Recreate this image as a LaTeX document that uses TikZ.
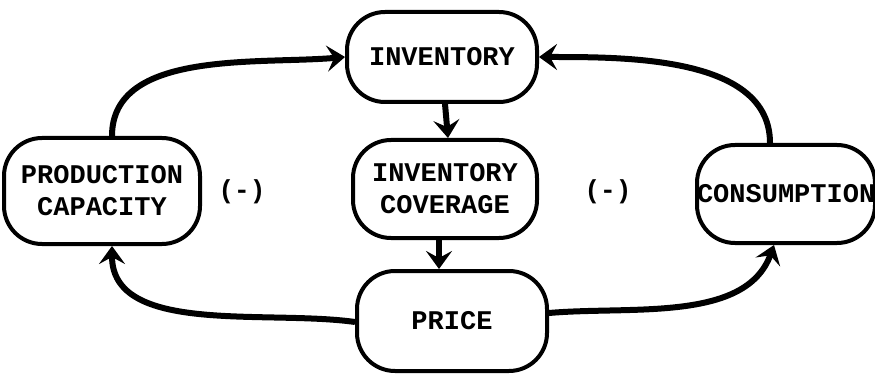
\documentclass[tikz,border=0pt]{standalone}
\usepackage{fontspec}
\setmonofont{Liberation Mono}
\usetikzlibrary{arrows.meta}
\begin{document}
\begin{tikzpicture}[x=1pt,y=-1pt,
  box/.style={draw, line width=4pt, rounded corners=38pt, inner sep=0pt,
    font=\ttfamily\bfseries\fontsize{27}{32}\selectfont, align=center},
  arr/.style={line width=6pt, -{Stealth[length=18pt,width=26pt,inset=7pt]}},
  sign/.style={font=\ttfamily\bfseries\fontsize{26}{28}\selectfont}]
\useasboundingbox (0,0) rectangle (875,374);
\node[box, minimum width=190pt, minimum height=90pt] (inv) at (442,57) {INVENTORY};
\node[box, minimum width=184pt, minimum height=98pt] (cov) at (445,189) {INVENTORY\\COVERAGE};
\node[box, minimum width=190pt, minimum height=100pt] (price) at (452,321) {PRICE};
\node[box, minimum width=196pt, minimum height=106pt, text width=196pt] (prod) at (102,191) {PRODUCTION\\CAPACITY};
\node[box, minimum width=178pt, minimum height=98pt, text width=178pt] (cons) at (786,194) {CONSUMPTION};
\node[sign] (s1) at (242,192) {(-)};
\node[sign] (s2) at (608,192) {(-)};
\draw[arr] ([xshift=10pt]prod.north) to[out=90,in=185,looseness=0.9] (inv.west);
\draw[arr] ([xshift=-16pt]cons.north) to[out=90,in=0,looseness=0.9] (inv.east);
\draw[arr] ([xshift=3pt]inv.south) -- ([xshift=3pt]cov.north);
\draw[arr] ([xshift=-6pt]cov.south) -- ([xshift=-13pt]price.north);
\draw[arr] ([yshift=-1pt]price.west) to[out=172,in=-90,looseness=0.9] ([xshift=10pt]prod.south);
\draw[arr] ([yshift=8pt]price.east) to[out=5,in=-110,looseness=0.9] ([xshift=-12pt]cons.south);
\end{tikzpicture}
\end{document}
